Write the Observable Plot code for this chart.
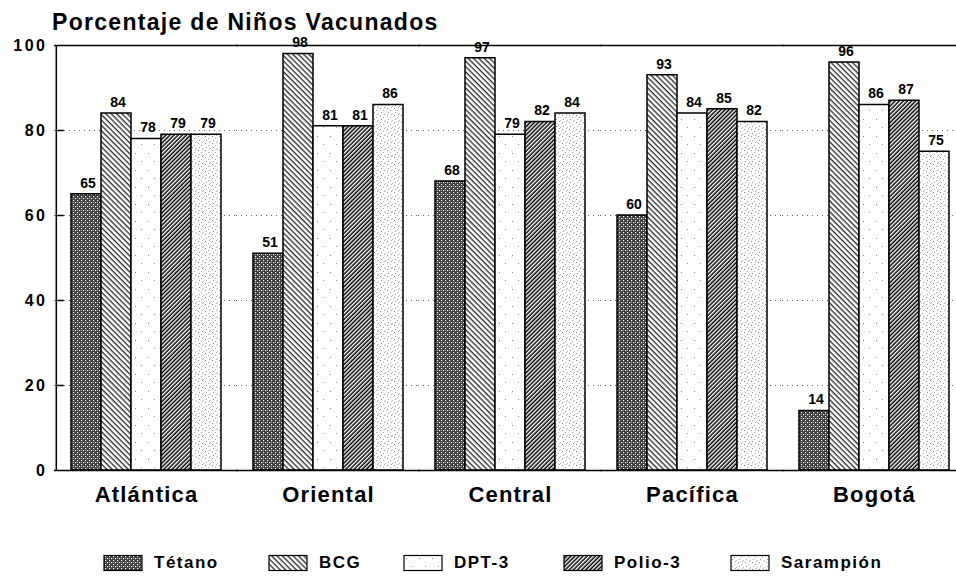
<!DOCTYPE html>
<html>
<head>
<meta charset="utf-8">
<script src="https://cdn.jsdelivr.net/npm/d3@7"></script>
<script src="https://cdn.jsdelivr.net/npm/@observablehq/plot@0.6"></script>
<style>
  body { margin: 0; background: #fff; width: 956px; height: 576px; overflow: hidden; font-family: "Liberation Sans", Arial, sans-serif; position: relative; }
  #title { position: absolute; top: 10px; left: 52px; font-size: 23px; font-weight: bold; letter-spacing: 1.3px; line-height: 24px; color: #000; white-space: nowrap; }
  #chart { position: absolute; top: 30px; left: 0; }
  #chart svg { display: block; }
  #legend { position: absolute; top: 553px; left: 0; width: 956px; height: 20px; }
  .item { position: absolute; top: 0; display: flex; align-items: center; font-weight: bold; font-size: 17px; letter-spacing: 1.5px; height: 20px; }
  .item svg { margin-right: 10px; }
</style>
</head>
<body>
<div id="title">Porcentaje de Niños Vacunados</div>
<div id="chart"></div>
<div id="legend"></div>
<script>
const regions = ["Atlántica", "Oriental", "Central", "Pacífica", "Bogotá"];
const vaccines = ["Tétano", "BCG", "DPT-3", "Polio-3", "Sarampión"];
const tetano    = [65, 51, 68, 60, 14];
const bcg       = [84, 98, 97, 93, 96];
const dpt3      = [78, 81, 79, 84, 86];
const polio3    = [79, 81, 82, 85, 87];
const sarampion = [79, 86, 84, 82, 75];
const yTicks = [0, 20, 40, 60, 80, 100];
const gridTicks = [20, 40, 60, 80];
const patternIds = ["pTet", "pBCG", "pDPT", "pPol", "pSar"];

const seriesValues = [tetano, bcg, dpt3, polio3, sarampion];
const data = [];
regions.forEach((r, i) => vaccines.forEach((v, j) => data.push({region: r, vaccine: v, value: seriesValues[j][i]})));
const tickData = gridTicks.map(t => ({region: regions[0], vaccine: vaccines[0], y: t}));

const defs = `
<defs>
 <pattern id="pTet" width="4" height="4" patternUnits="userSpaceOnUse">
  <rect width="4" height="4" fill="#3a3a3a"/>
  <rect x="0" y="0" width="1.2" height="1.2" fill="#fff"/>
  <rect x="2" y="2" width="1.2" height="1.2" fill="#fff"/>
  <rect x="2" y="0" width="1" height="1" fill="#999"/>
 </pattern>
 <pattern id="pBCG" width="3.8" height="3.8" patternUnits="userSpaceOnUse" patternTransform="rotate(-45)">
  <rect width="3.8" height="3.8" fill="#fff"/>
  <line x1="1.2" y1="-1" x2="1.2" y2="5" stroke="#000" stroke-width="1.1"/>
 </pattern>
 <pattern id="pPol" width="2.9" height="2.9" patternUnits="userSpaceOnUse" patternTransform="rotate(45)">
  <rect width="2.9" height="2.9" fill="#fff"/>
  <line x1="1.2" y1="-1" x2="1.2" y2="4" stroke="#000" stroke-width="1.5"/>
 </pattern>
 <pattern id="pDPT" width="13" height="17" patternUnits="userSpaceOnUse">
  <rect width="13" height="17" fill="#fff"/>
  <rect x="3" y="4" width="1" height="1" fill="#888"/>
  <rect x="9" y="12" width="1" height="1" fill="#999"/>
 </pattern>
 <pattern id="pSar" width="7" height="7" patternUnits="userSpaceOnUse">
  <rect width="7" height="7" fill="#fff"/>
  <rect x="1" y="1" width="1" height="1" fill="#888"/>
  <rect x="4" y="3" width="1" height="1" fill="#aaa"/>
  <rect x="2" y="5" width="1" height="1" fill="#999"/>
  <rect x="6" y="6" width="1" height="1" fill="#bbb"/>
  <rect x="5" y="0" width="1" height="1" fill="#aaa"/>
 </pattern>
</defs>`;

const font = "Liberation Sans, Arial, sans-serif";

const chart = Plot.plot({
  width: 956,
  height: 490,
  marginTop: 15,
  marginBottom: 50,
  marginLeft: 55,
  marginRight: -9,
  style: {fontFamily: font, background: "transparent", color: "#000"},
  fx: {domain: regions, paddingInner: 0.165, paddingOuter: 0.0825, label: null},
  x: {domain: vaccines, padding: 0, axis: null},
  y: {domain: [0, 100]},
  color: {domain: vaccines, range: patternIds.map(id => `url(#${id})`)},
  marks: [
    Plot.ruleY(gridTicks, {stroke: "#666", strokeDasharray: "1,4", insetLeft: -16, insetRight: -16}),
    Plot.barY(data, {fx: "region", x: "vaccine", y: "value", fill: "vaccine", stroke: "#000", strokeWidth: 1.5}),
    Plot.text(data, {fx: "region", x: "vaccine", y: "value", text: d => String(d.value), dy: -11, dx: 1.5, fontSize: 14, fontWeight: "bold", fill: "#000", style: "letter-spacing:3.5px"}),
    Plot.ruleY([0, 100], {stroke: "#000", strokeWidth: 1.5, insetLeft: -16, insetRight: -16}),
    Plot.ruleX([{region: regions[0], vaccine: vaccines[0]}], {fx: "region", x: "vaccine", y1: 0, y2: 100, dx: -30.2, stroke: "#000", strokeWidth: 1.5}),
    Plot.tickY(tickData, {fx: "region", x: "vaccine", y: "y", dx: -15.2, insetRight: 22, stroke: "#000", strokeWidth: 1.5}),
    Plot.axisY({ticks: yTicks, tickSize: 0, tickPadding: 23, fontSize: 16, fontWeight: "bold", label: null, tickFormat: d => String(d)}),
    Plot.axisFx({anchor: "bottom", tickSize: 0, tickPadding: 16, fontSize: 22, fontWeight: "bold", label: null})
  ]
});
d3.select(chart).insert("g", ":first-child").html(defs);
d3.select(chart).selectAll("g[aria-label='fx-axis tick label'] text").style("letter-spacing", "1.2px");
d3.select(chart).selectAll("g[aria-label='y-axis tick label'] text").style("letter-spacing", "2.5px");
document.getElementById("chart").appendChild(chart);

const legendX = [103, 268, 403, 563, 730];
const legend = d3.select("#legend");
vaccines.forEach((v, i) => {
  const item = legend.append("div").attr("class", "item").style("left", legendX[i] + "px");
  const s = item.append("svg").attr("width", 41).attr("height", 18);
  s.append("rect").attr("x", 1).attr("y", 1.5).attr("width", 38).attr("height", 15)
    .attr("fill", `url(#${patternIds[i]})`).attr("stroke", "#000").attr("stroke-width", 1.2);
  item.append("span").text(v);
});
</script>
</body>
</html>
